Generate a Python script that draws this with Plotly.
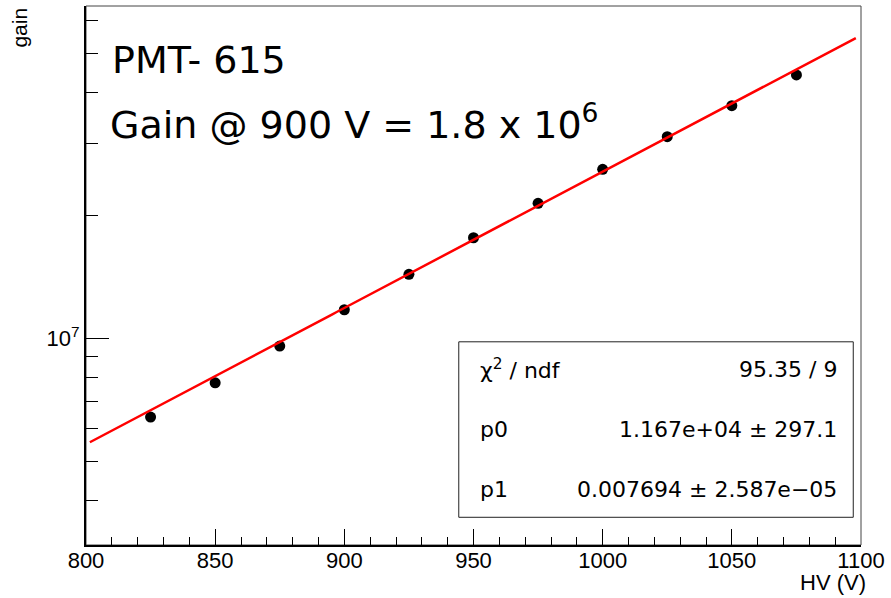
import numpy as np
import plotly.graph_objects as go

# ---- data ----
hv = [825, 850, 875, 900, 925, 950, 975, 1000, 1025, 1050, 1075]
gain = [6.41e6, 7.78e6, 9.57e6, 1.175e7, 1.435e7, 1.764e7, 2.142e7, 2.596e7, 3.12e7, 3.717e7, 4.42e7]

# fit: gain = p0 * exp(p1 * HV)
p0 = 1.167e4
p1 = 0.007694
fit_range = [801.5, 1098.0]

chi2_text = "95.35 / 9"
p0_text = "1.167e+04 \u00b1 297.1"
p1_text = "0.007694 \u00b1 2.587e\u221205"

x_range = [800, 1100]
y_log_range = [6.4934, 7.8145]
y_major = [1e7]
y_major_text = ["10<sup>7</sup>"]
y_minor = [3e6, 4e6, 5e6, 6e6, 7e6, 8e6, 9e6, 2e7, 3e7, 4e7, 5e7, 6e7]

fit_x = np.linspace(fit_range[0], fit_range[1], 200)
fit_y = p0 * np.exp(p1 * fit_x)

FONT = "Liberation Sans, Arial, Helvetica, sans-serif"
STATS_FONT = "DejaVu Sans, sans-serif"
BIG = "DejaVu Sans, sans-serif"

fig = go.Figure()
fig.add_trace(go.Scatter(x=hv, y=gain, mode="markers",
                         marker=dict(color="black", size=11),
                         showlegend=False, yaxis="y"))
fig.add_trace(go.Scatter(x=fit_x, y=fit_y, mode="lines",
                         line=dict(color="#ff0000", width=2.5),
                         showlegend=False, yaxis="y2"))

fig.update_layout(
    width=891, height=598,
    margin=dict(l=86, r=24, t=6, b=53),
    paper_bgcolor="white", plot_bgcolor="white",
    font=dict(family=FONT, size=22, color="black"),
    xaxis=dict(range=x_range, dtick=50, tick0=800, ticks="inside", ticklen=16,
               tickwidth=1, tickcolor="black", showline=True, linecolor="black",
               linewidth=2, showgrid=False, zeroline=False,
               tickfont=dict(size=22), ticklabelstandoff=-5,
               minor=dict(dtick=10, tick0=800, ticks="inside", ticklen=8,
                          tickwidth=1, tickcolor="black", showgrid=False)),
    yaxis=dict(type="log", range=y_log_range, tickmode="array",
               tickvals=y_major, ticktext=y_major_text,
               ticks="inside", ticklen=23, tickwidth=1, tickcolor="black",
               showline=True, linecolor="black", linewidth=2,
               showgrid=False, zeroline=False, tickfont=dict(size=22)),
    yaxis2=dict(type="log", range=y_log_range, overlaying="y", side="left",
                tickmode="array", tickvals=y_minor, ticks="inside", ticklen=12,
                tickwidth=1, tickcolor="black", showticklabels=False,
                showline=False, showgrid=False, zeroline=False),
)

# frame
fig.add_shape(type="rect", xref="paper", yref="paper", x0=0, x1=1, y0=0, y1=1,
              line=dict(color="#444444", width=1), layer="below")

# stats box
fig.add_shape(type="rect", xref="paper", yref="paper",
              x0=0.481, x1=0.990, y0=0.0514, y1=0.377,
              line=dict(color="#222222", width=1), fillcolor="white", layer="above")
rows_y = [(545 - 369) / 539, (545 - 429) / 539, (545 - 489) / 539]
labels = ["\u03c7<sup>2</sup> / ndf", "p0", "p1"]
values = [chi2_text, p0_text, p1_text]
for yy, lab, val in zip(rows_y, labels, values):
    fig.add_annotation(xref="paper", yref="paper", x=0.5055, y=yy, text=lab,
                       showarrow=False, xanchor="left", yanchor="middle",
                       font=dict(size=22, family=STATS_FONT))
    fig.add_annotation(xref="paper", yref="paper", x=0.971, y=yy, text=val,
                       showarrow=False, xanchor="right", yanchor="middle",
                       font=dict(size=22, family=STATS_FONT))

# axis titles
fig.add_annotation(xref="paper", yref="paper", x=-0.087, y=1.0, text="gain",
                   textangle=-90, showarrow=False, xanchor="center", yanchor="top",
                   font=dict(size=21, family=FONT))
fig.add_annotation(xref="paper", yref="paper", x=1.009, y=-0.069, text="HV (V)",
                   showarrow=False, xanchor="right", yanchor="middle",
                   font=dict(size=22, family=FONT))

# big labels
fig.add_annotation(xref="paper", yref="paper", x=0.031, y=(545 - 60) / 539,
                   text="PMT- 615", showarrow=False, xanchor="left", yanchor="middle",
                   font=dict(size=38, family=BIG))
fig.add_annotation(xref="paper", yref="paper", x=0.029, y=(545 - 122) / 539,
                   text="Gain @ 900 V = 1.8 x 10<sup>6</sup>", showarrow=False,
                   xanchor="left", yanchor="middle",
                   font=dict(size=38, family=BIG))

fig.write_html("out.html", config={"displayModeBar": False},
               post_script="document.body.style.margin='0';document.body.style.padding='0';")
